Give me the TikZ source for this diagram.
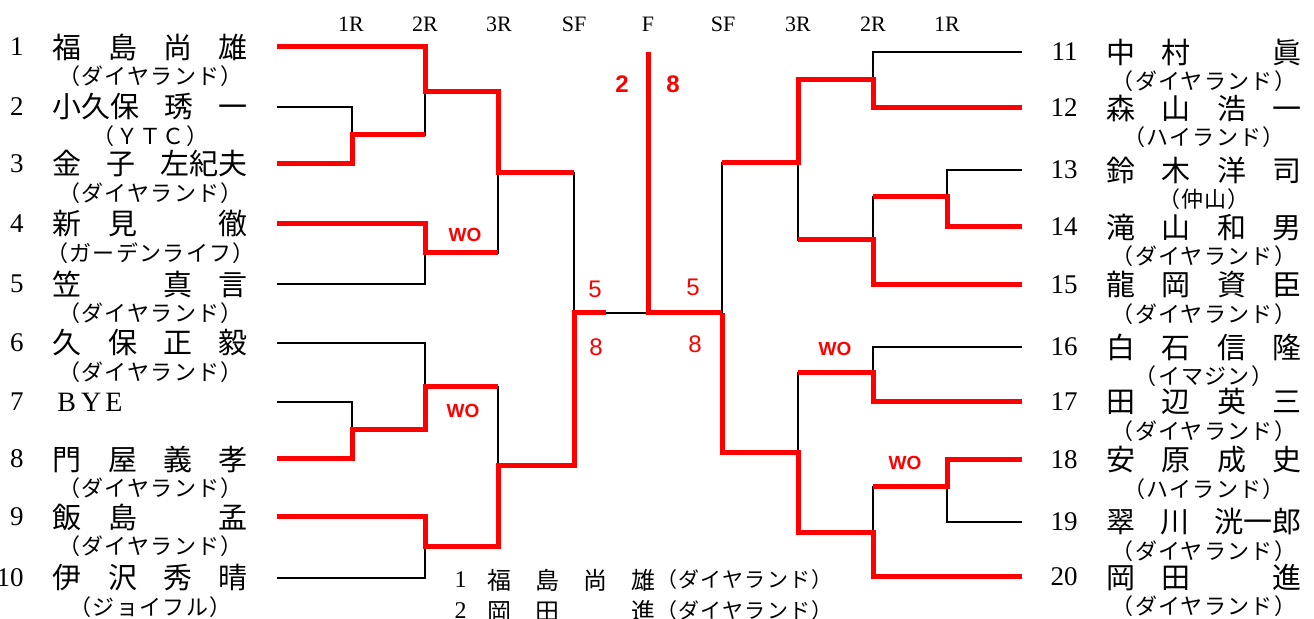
\documentclass[tikz,border=0pt]{standalone}
\usepackage{fontspec}
\setmainfont{Liberation Serif}
\newfontfamily\jfont{Noto Sans CJK JP}
\newfontfamily\jclub{Noto Sans CJK JP}[LetterSpace=6]
\newfontfamily\wfont{Liberation Sans}
\usepackage{tikz}
\newcommand{\bout}[4][]{
	\draw[#1] (#2) -| (#4) |- (#3);
}
\tikzset{
	num node/.style={
		anchor=east,
		font=\fontsize{13.5}{15}\selectfont
	},
	name node/.style={
		font=\jfont\fontsize{14.5}{16}\selectfont
	},
	club node/.style={
		font=\jclub\fontsize{11}{12}\selectfont
	},
	round label/.style={
		font=\fontsize{11}{12}\selectfont
	},
	wo label/.style={
		text=red,
		font=\wfont\bfseries\fontsize{9.5}{10}\selectfont
	},
	score/.style={
		text=red,
		font=\wfont\fontsize{12}{13}\selectfont
	},
	final score/.style={
		text=red,
		font=\wfont\bfseries\fontsize{12}{13}\selectfont
	}
}
\tikzset{
	bracket/.style={
		black,
		line width=0.9pt
	},
	win/.style={
		red,
		line width=2.5pt
	},
	every node/.append style={inner sep=0pt}
}
\begin{document}
\begin{tikzpicture}[x=0.5pt,y=-0.5pt]
	\useasboundingbox[fill=white] (0,0) rectangle (1314,619);

	% round headers
	\foreach \x/\r in{
		351/1R,425/2R,499/3R,574/SF,648/F,723/SF,798/3R,873/2R,947/1R%
	}{
		\node[round label] (head\x) at (\x,24) {\r};
	}

	% left players
	\foreach \n/\y/\nm/\cl in{
		1/47/{福\hfill 島\hfill 尚\hfill 雄}/{（ダイヤランド）},
		2/107/{小久保\hfill 琇\hfill 一}/{（ＹＴＣ）},
		3/164/{金\hfill 子\hfill 左紀夫}/{（ダイヤランド）},
		4/224/{新\hfill 見\hfill\phantom{字}\hfill 徹}/{（ガーデンライフ）},
		5/284/{笠\hfill\phantom{字}\hfill 真\hfill 言}/{（ダイヤランド）},
		6/343/{久\hfill 保\hfill 正\hfill 毅}/{（ダイヤランド）},
		8/459/{門\hfill 屋\hfill 義\hfill 孝}/{（ダイヤランド）},
		9/517/{飯\hfill 島\hfill\phantom{字}\hfill 孟}/{（ダイヤランド）},
		10/578/{伊\hfill 沢\hfill 秀\hfill 晴}/{（ジョイフル）}%
	}{
		\coordinate (p\n) at (277,\y);
		\node[num node] (num\n) at (24,\y) {\n};
		\node[name node] (name\n) at (150.5,\y) {\makebox[97.5pt][s]{\nm}};
		\node[club node] (club\n) at (150.5,{\y+29}) {\cl};
	}
	\coordinate (p7) at (277,402);
	\node[num node] (num7) at (24,402) {7};
	\node[anchor=west, font=\fontsize{14}{15}\selectfont] (name7) at (57,402) {B\hspace{2.5pt}Y\hspace{2pt}E};

	% right players
	\foreach \n/\y/\nm/\cl in{
		11/52/{中\hfill 村\hfill\phantom{字}\hfill 眞}/{（ダイヤランド）},
		12/108/{森\hfill 山\hfill 浩\hfill 一}/{（ハイランド）},
		13/170/{鈴\hfill 木\hfill 洋\hfill 司}/{（仲山）},
		14/227/{滝\hfill 山\hfill 和\hfill 男}/{（ダイヤランド）},
		15/285/{龍\hfill 岡\hfill 資\hfill 臣}/{（ダイヤランド）},
		16/347/{白\hfill 石\hfill 信\hfill 隆}/{（イマジン）},
		17/402/{田\hfill 辺\hfill 英\hfill 三}/{（ダイヤランド）},
		18/460/{安\hfill 原\hfill 成\hfill 史}/{（ハイランド）},
		19/522/{翠\hfill 川\hfill 洸一郎}/{（ダイヤランド）},
		20/577/{岡\hfill 田\hfill\phantom{字}\hfill 進}/{（ダイヤランド）}%
	}{
		\coordinate (q\n) at (1022,\y);
		\node[num node] (num\n) at (1078,\y) {\n};
		\node[name node] (name\n) at (1204,\y) {\makebox[97.5pt][s]{\nm}};
		\node[club node] (club\n) at (1204,{\y+29}) {\cl};
	}

	% joins
	\coordinate (a23) at (352,135);
	\coordinate (b1) at (425,92);
	\coordinate (b45) at (425,253);
	\coordinate (c1) at (498,173);
	\coordinate (a78) at (352,430);
	\coordinate (b6) at (425,387);
	\coordinate (b910) at (425,547);
	\coordinate (c2) at (498,466);
	\coordinate (s1) at (574,313);
	\coordinate (sfl) at (606,313);
	\coordinate (fin) at (648,313);
	\coordinate (fintop) at (648,52);
	\coordinate (s2) at (722,313);
	\coordinate (b1112) at (873,80);
	\coordinate (a1314) at (947,197);
	\coordinate (b15) at (873,240);
	\coordinate (c3) at (798,163);
	\coordinate (b1617) at (873,373);
	\coordinate (a1819) at (947,487);
	\coordinate (b20) at (873,533);
	\coordinate (c4) at (798,453);

	\bout[bracket]{p2}{p3}{a23}
	\bout[bracket]{p1}{a23}{b1}
	\bout[bracket]{p4}{p5}{b45}
	\bout[bracket]{b1}{b45}{c1}
	\bout[bracket]{p7}{p8}{a78}
	\bout[bracket]{p6}{a78}{b6}
	\bout[bracket]{p9}{p10}{b910}
	\bout[bracket]{b6}{b910}{c2}
	\bout[bracket]{c1}{c2}{s1}
	\draw[bracket] (s1) -- (s2);
	\bout[bracket]{q11}{q12}{b1112}
	\bout[bracket]{q13}{q14}{a1314}
	\bout[bracket]{q15}{a1314}{b15}
	\bout[bracket]{b1112}{b15}{c3}
	\bout[bracket]{q16}{q17}{b1617}
	\bout[bracket]{q18}{q19}{a1819}
	\bout[bracket]{a1819}{q20}{b20}
	\bout[bracket]{b1617}{b20}{c4}
	\bout[bracket]{c3}{c4}{s2}

	% winners
	\draw[win] (p1) -| (b1) -| (c1) -- (c1 -| s1);
	\draw[win] (p3) -| (a23) -- (a23 -| b1);
	\draw[win] (p4) -| (b45) -- (b45 -| c1);
	\draw[win] (p8) -| (a78) -| (b6) -- (b6 -| c2);
	\draw[win] (p9) -| (b910) -| (c2) -| (s1) -- (sfl);
	\draw[win] (fintop) -- (fin) -- (s2);
	\draw[win] (q12) -| (b1112) -| (c3) -- (c3 -| s2);
	\draw[win] (q14) -| (a1314) -- (a1314 -| b15);
	\draw[win] (q15) -| (b15) -- (b15 -| c3);
	\draw[win] (q17) -| (b1617) -- (b1617 -| c4);
	\draw[win] (q18) -| (a1819) -- (a1819 -| b20);
	\draw[win] (q20) -| (b20) -| (c4) -| (s2);

	% scores
	\node[wo label] (wo1) at (465,235) {WO};
	\node[wo label] (wo2) at (463,411) {WO};
	\node[wo label] (wo3) at (835,349) {WO};
	\node[wo label] (wo4) at (905,463) {WO};
	\node[score] (sl5) at (595,289) {5};
	\node[score] (sl8) at (596,347) {8};
	\node[score] (sr5) at (693,287) {5};
	\node[score] (sr8) at (695,344) {8};
	\node[final score] (fl) at (622,84) {2};
	\node[final score] (fr) at (673,84) {8};

	% result
	\node[num node, font=\fontsize{12}{13}\selectfont] (rank1) at (467,580) {1};
	\node[name node, font=\jfont\fontsize{12}{13}\selectfont] (champ) at (571,580) {\makebox[84pt][s]{福\hfill 島\hfill 尚\hfill 雄}};
	\node[club node, anchor=west, font=\jclub\fontsize{10.5}{11}\selectfont] (champclub) at (656,580) {（ダイヤランド）};
	\node[num node, font=\fontsize{12}{13}\selectfont] (rank2) at (467,611) {2};
	\node[name node, font=\jfont\fontsize{12}{13}\selectfont] (second) at (571,611) {\makebox[84pt][s]{岡\hfill 田\hfill\phantom{字}\hfill 進}};
	\node[club node, anchor=west, font=\jclub\fontsize{10.5}{11}\selectfont] (secondclub) at (656,611) {（ダイヤランド）};
\end{tikzpicture}
\end{document}
